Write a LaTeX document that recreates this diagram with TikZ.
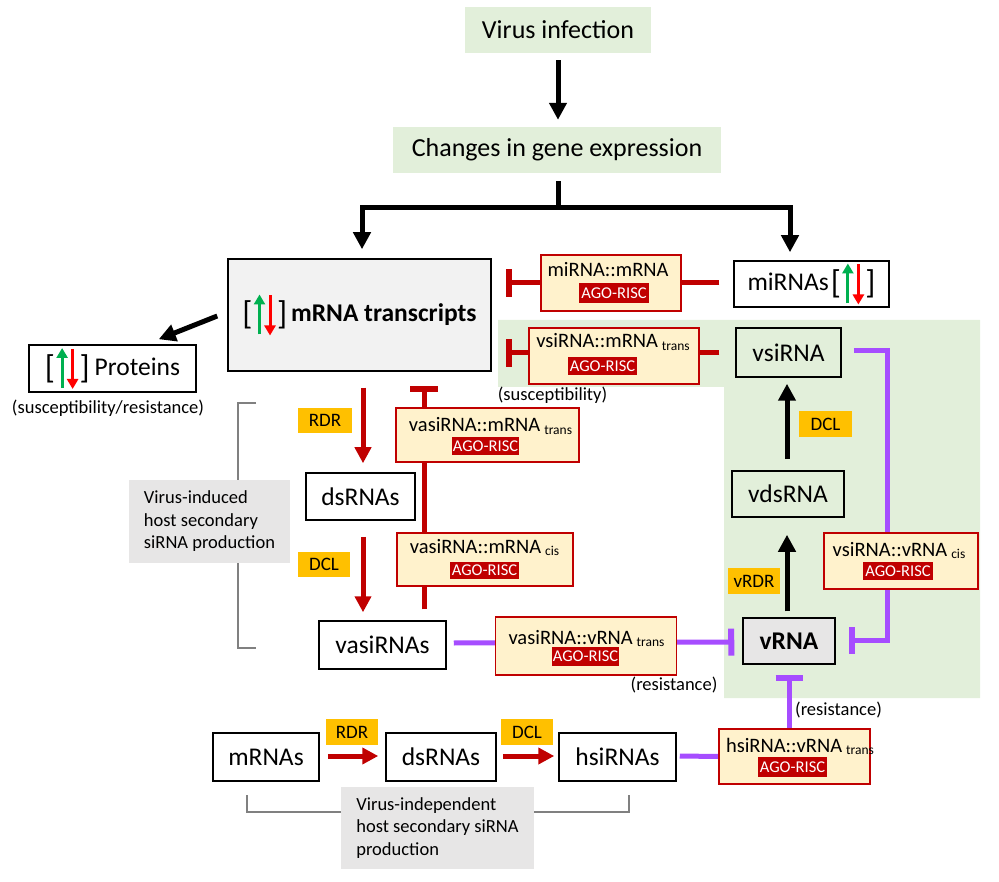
\documentclass[tikz,border=0pt]{standalone}
\usepackage{fontspec}
\setmainfont{Carlito}
\usetikzlibrary{arrows.meta,calc}
\definecolor{lgreen}{HTML}{E2EFDA}
\definecolor{yfill}{HTML}{FFF2CC}
\definecolor{rbord}{HTML}{C00000}
\definecolor{agored}{HTML}{C00000}
\definecolor{rline}{HTML}{C00000}
\definecolor{orng}{HTML}{FFC000}
\definecolor{purp}{HTML}{A64DFF}
\definecolor{greylab}{HTML}{E7E6E6}
\definecolor{mgrey}{HTML}{F2F2F2}
\definecolor{vgrey}{HTML}{E7E6E6}
\definecolor{gbrk}{HTML}{808080}
\definecolor{ugreen}{HTML}{00B050}
\definecolor{ured}{HTML}{FF0000}
\pgfdeclarelayer{back}\pgfdeclarelayer{mid}\pgfsetlayers{back,mid,main}
\newcommand{\udicon}{\raisebox{-3pt}{\fontsize{33}{33}\selectfont[}\hspace{1.5pt}\tikz[baseline=0pt]{\draw[line width=3pt,draw=ugreen,-{Triangle[length=10pt,width=11pt]}] (4pt,-12.5pt) -- (4pt,27.5pt);\draw[line width=3pt,draw=ured,-{Triangle[length=10pt,width=11pt]}] (14.5pt,26.5pt) -- (14.5pt,-13.5pt);}\hspace{1.5pt}\raisebox{-3pt}{\fontsize{33}{33}\selectfont]}}
\newcommand{\subt}[1]{\hspace{4pt}\raisebox{-2.5pt}{\fontsize{13.5}{15}\selectfont #1}}
\tikzset{
 topbox/.style={fill=lgreen, inner sep=0pt, font=\fontsize{26}{30}\selectfont},
 bx/.style={draw=black, line width=1.5pt, fill=white, inner sep=0pt, font=\fontsize{25.5}{30}\selectfont},
 ibox/.style={draw=rbord, line width=1.8pt, fill=yfill, inner sep=0pt},
 itext/.style={inner sep=0pt, anchor=base, font=\fontsize{20.5}{23}\selectfont},
 ago/.style={fill=agored, text=white, inner sep=0pt, font=\fontsize{16.5}{18}\selectfont},
 olbl/.style={fill=orng, inner sep=0pt, minimum width=52pt, minimum height=26pt, font=\fontsize{19}{20}\selectfont},
 glabel/.style={fill=greylab, inner sep=0pt, align=left, font=\fontsize{18.5}{22.5}\selectfont},
 note/.style={inner sep=0pt, font=\fontsize{18.5}{22}\selectfont},
 blk/.style={line width=5pt, draw=black, line join=miter},
 blkarr/.style={blk, -{Triangle[length=17pt,width=17pt]}},
 redarr/.style={line width=5pt, draw=rline, -{Triangle[length=16pt,width=16pt]}},
 redinh/.style={line width=5pt, draw=rline, -{Bar[width=28pt,line width=6pt]}},
 purinh/.style={line width=5pt, draw=purp, line join=miter, -{Bar[width=27pt,line width=6pt]}},
 purln/.style={line width=5pt, draw=purp},
 brk/.style={draw=gbrk, line width=1.8pt},
}
\begin{document}
\begin{tikzpicture}[x=1pt,y=-1pt]
\useasboundingbox (0,0) rectangle (999,882);
\begin{pgfonlayer}{back}
\fill[lgreen] (498,320) -- (980,320) -- (980,698) -- (724,698) -- (724,387) -- (498,387) -- cycle;
\end{pgfonlayer}

% top
\node[topbox, minimum width=186pt, minimum height=46pt] (virus) at (558,30) {Virus infection};
\node[topbox, minimum width=328pt, minimum height=46pt] (changes) at (557,150) {Changes in gene expression};

% main boxes
\node[bx, fill=mgrey, minimum width=263pt, minimum height=112pt] (mrna) at (359.5,315) {\udicon\hspace{4pt}\textbf{mRNA transcripts}};
\node[bx, minimum width=155pt, minimum height=46pt] (mirnas) at (811.5,284) {miRNAs\hspace{2pt}\udicon};
\node[bx, minimum width=167pt, minimum height=47pt] (proteins) at (112.5,368.5) {\udicon\hspace{5pt}Proteins};
\node[note] (psr) at (108,408.5) {(susceptibility/resistance)};
\node[bx, minimum width=109pt, minimum height=47pt] (dsl) at (360.5,496.5) {dsRNAs};
\node[bx, minimum width=127pt, minimum height=48pt] (vasirnas) at (382.5,645) {vasiRNAs};
\node[bx, fill=lgreen, minimum width=105pt, minimum height=49pt] (vsirna) at (788.5,352.5) {vsiRNA};
\node[bx, fill=lgreen, minimum width=112pt, minimum height=46pt] (vdsrna) at (788,494) {vdsRNA};
\node[bx, fill=vgrey, minimum width=92pt, minimum height=46pt] (vrna) at (789,641) {\textbf{vRNA}};
\node[bx, minimum width=106pt, minimum height=48pt] (mrnas) at (266,757) {mRNAs};
\node[bx, minimum width=110pt, minimum height=48pt] (dsb) at (441,757) {dsRNAs};
\node[bx, minimum width=117pt, minimum height=48pt] (hsirnas) at (617.5,757) {hsiRNAs};

% grey labels
\node[glabel, minimum width=161pt, minimum height=83pt] (gl1) at (209.5,521.5) {Virus-induced\\host secondary\\siRNA production};
\node[glabel, minimum width=193pt, minimum height=82pt] (gl2) at (437.5,828) {Virus-independent\\host secondary siRNA\\production};

% orange labels
\node[olbl, minimum width=54pt, minimum height=25pt] (rdrL) at (325,420.5) {RDR};
\node[olbl, minimum height=25pt] (dclL) at (324,564.5) {DCL};
\node[olbl, minimum width=53pt] (dclR) at (825.5,424) {DCL};
\node[olbl] (vrdr) at (754,581) {vRDR};
\node[olbl] (rdrB) at (352,732) {RDR};
\node[olbl] (dclB) at (527,732) {DCL};

% AGO-RISC complexes
\node[ibox, minimum width=140pt, minimum height=56pt] (mimbox) at (611,283) {};
\node[itext] (mimtxt) at (608,277) {miRNA::mRNA};
\node[ago, minimum width=70pt, minimum height=20pt] (mimago) at (614,293) {AGO-RISC};

\node[ibox, minimum width=170pt, minimum height=56pt] (vsmbox) at (614,356) {};
\node[itext] (vsmtxt) at (613,348) {vsiRNA::mRNA\subt{trans}};
\node[ago, minimum width=69pt, minimum height=18pt] (vsmago) at (602.5,366) {AGO-RISC};

\node[ibox, minimum width=183pt, minimum height=54pt] (vamtbox) at (487.5,435) {};
\node[itext] (vamttxt) at (490.5,432) {vasiRNA::mRNA\subt{trans}};
\node[ago, minimum width=67pt, minimum height=18pt] (vamtago) at (485.5,446) {AGO-RISC};

\node[ibox, minimum width=176pt, minimum height=53pt] (vamcbox) at (485,559.5) {};
\node[itext] (vamctxt) at (484.5,553) {vasiRNA::mRNA\subt{cis}};
\node[ago, minimum width=69pt, minimum height=17pt] (vamcago) at (484.5,570) {AGO-RISC};

\node[ibox, minimum width=181pt, minimum height=58pt] (vavbox) at (586,646) {};
\node[itext] (vavtxt) at (586.5,644) {vasiRNA::vRNA\subt{trans}};
\node[ago, minimum width=67pt, minimum height=19pt] (vavago) at (585.5,656) {AGO-RISC};

\node[ibox, minimum width=154pt, minimum height=56pt] (vsvbox) at (901,561) {};
\node[itext] (vsvtxt) at (899,556) {vsiRNA::vRNA\subt{cis}};
\node[ago, minimum width=70pt, minimum height=18pt] (vsvago) at (898,571) {AGO-RISC};

\node[ibox, minimum width=151pt, minimum height=55pt] (hsvbox) at (794.5,756.5) {};
\node[itext] (hsvtxt) at (800,752) {hsiRNA::vRNA\subt{trans}};
\node[ago, minimum width=69pt, minimum height=20pt] (hsvago) at (792.5,767) {AGO-RISC};

% notes
\node[note] (susc) at (552.5,395) {(susceptibility)};
\node[note] (resL) at (674,685) {(resistance)};
\node[note] (resR) at (838.5,710) {(resistance)};

% coordinates
\coordinate (sl) at (362,208);
\coordinate (sr) at (790,208);
\coordinate (sm) at (558,208);
\coordinate (pc1) at (887,351);
\coordinate (pc2) at (887,640);

\begin{pgfonlayer}{mid}
% brackets
\draw[brk] (256,403) -- (238,403) -- (238,648) -- (256,648);
\draw[brk] (247,795) -- (247,812) -- (629,812) -- (629,795);
% top flow
\draw[blkarr] ($(virus.south)+(0,7)$) -- ($(changes.north)+(1,-7)$);
\draw[blk] ($(changes.south)+(1,8)$) -- (sm);
\draw[blkarr] (sr) -- (sl) -- ($(sl |- mrna.north)+(0,-9)$);
\draw[blkarr] (sl) -- (sr) -- ($(sr |- mirnas.north)+(0,-8)$);
\draw[blkarr] ($(mrna.west)+(-10,1)$) -- ($(proteins.north east)+(-38,-5)$);
% red inhibitions
\draw[redinh] ($(mirnas.west)+(-14,-1)$) -- ($(mrna.east)+(14,-32)$);
\draw[redinh] ($(vsirna.west)+(-16,0.5)$) -- ($(mrna.east)+(14,38)$);
\draw[redinh] ($(vasirnas.north)+(41.5,-11)$) -- ($(mrna.south)+(64.5,14)$);
% red arrows
\draw[redarr] ($(mrna.south)+(3.5,16)$) -- ($(dsl.north)+(2.5,-9)$);
\draw[redarr] ($(dsl.south)+(2.5,16)$) -- ($(vasirnas.north)+(-19.5,-8)$);
\draw[redarr] ($(mrnas.east)+(8,-1)$) -- ($(dsb.west)+(-7,-1)$);
\draw[redarr] ($(dsb.east)+(6,-1)$) -- ($(hsirnas.west)+(-4,-1)$);
% purple
\draw[purinh] ($(vasirnas.east)+(7,-2)$) -- ($(vrna.west)+(-8,1)$);
\draw[purinh] ($(vsirna.east)+(12,-1.5)$) -- (pc1) -- (pc2) -- ($(vrna.east)+(13,-1)$);
\draw[purln] ($(hsirnas.east)+(3,-1)$) -- (hsvbox.west);
\draw[purinh] ($(hsvbox.north)+(-5.5,0)$) -- ($(vrna.south)+(0,10)$);
% black virus arrows
\draw[blkarr] ($(vrna.north)+(-2,-6)$) -- ($(vdsrna.south)+(-1,17)$);
\draw[blkarr] ($(vdsrna.north)+(-1,-11)$) -- ($(vsirna.south)+(-1.5,6)$);
\end{pgfonlayer}
\end{tikzpicture}
\end{document}
